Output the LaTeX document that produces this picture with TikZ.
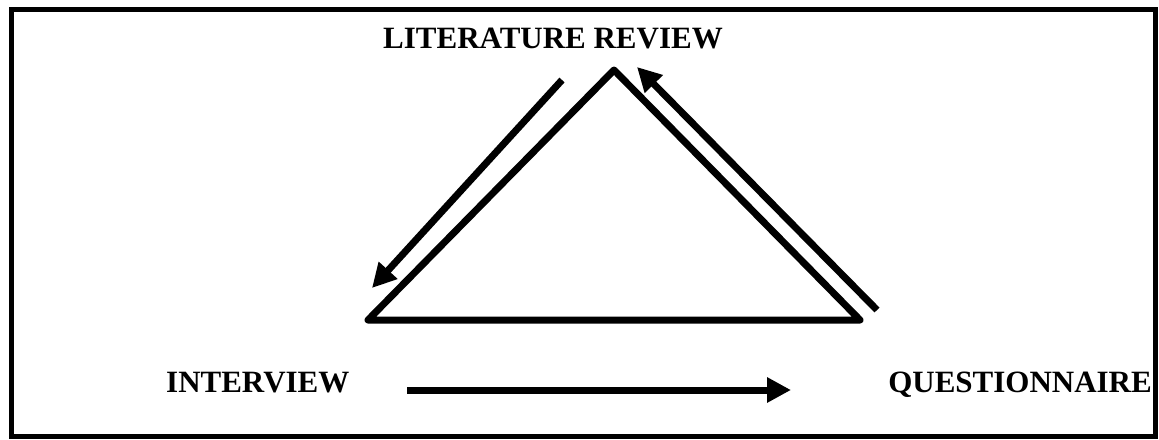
\documentclass[tikz,border=0pt]{standalone}
\usepackage{fontspec}
\setmainfont{Liberation Serif}
\usetikzlibrary{arrows.meta}
\tikzset{
  >={Triangle[length=24pt,width=24pt]},
  lbl/.style={font=\fontsize{31}{36}\selectfont\bfseries,inner sep=0pt},
  side/.style={line width=7pt,line join=round},
  flow/.style={->,line width=7pt},
}
\begin{document}
\begin{tikzpicture}[x=1pt,y=-1pt]
\useasboundingbox (0,0) rectangle (1159,439);
\draw[line width=5pt] (11,9) rectangle (1155,436);
% labels
\node[lbl,anchor=base west] (lit) at (383,48) {LITERATURE REVIEW};
\node[lbl,anchor=base west] (intv) at (166,392) {INTERVIEW};
\node[lbl,anchor=base east] (quest) at (1152,392) {QUESTIONNAIRE};
% triangle
\coordinate (top) at (614,70);
\coordinate (left) at (368,320);
\coordinate (right) at (860,320);
\draw[side] (top) -- (left) -- (right) -- cycle;
% arrows
\coordinate (litout) at (562,80);
\coordinate (intvin) at (372,288);
\coordinate (questout) at (877,310);
\coordinate (litin) at (637,67);
\coordinate (intvout) at (407,390);
\coordinate (questin) at (791,390);
\draw[flow] (litout) -- (intvin);
\draw[flow] (questout) -- (litin);
\draw[flow] (intvout) -- (questin);
\end{tikzpicture}
\end{document}
